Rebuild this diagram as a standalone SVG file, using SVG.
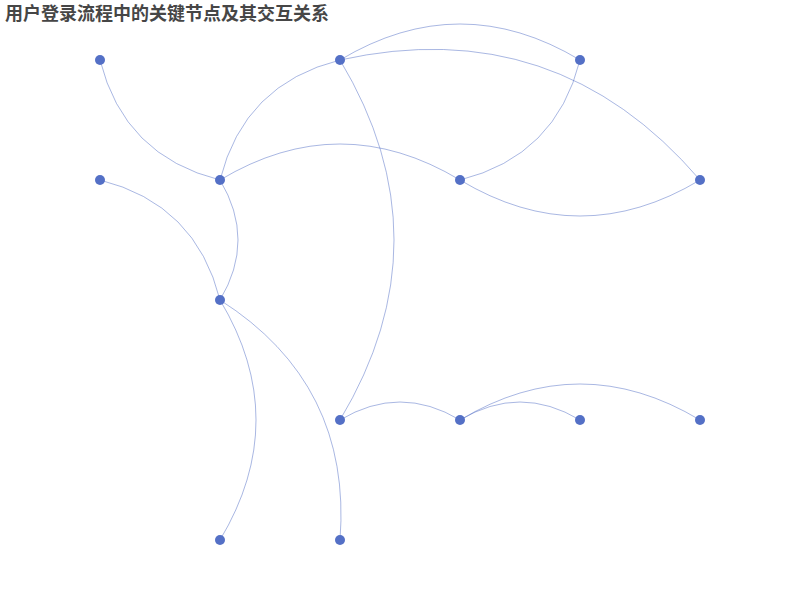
<svg xmlns="http://www.w3.org/2000/svg" width="800" height="600" viewBox="0 0 800 600">
<style>
.e{fill:none;stroke:#5470c6;stroke-opacity:0.5;stroke-width:1}
.n{fill:#5470c6}
.t{font-family:"Noto Sans CJK SC","Liberation Sans",sans-serif;font-size:18px;font-weight:bold;fill:#464646}
</style>
<rect width="800" height="600" fill="#ffffff"/>
<text class="t" x="5" y="20">用户登录流程中的关键节点及其交互关系</text>
<g id="edges">
<path class="e" d="M100,60 Q124,156 220,180"/>
<path class="e" d="M220,180 Q244,84 340,60"/>
<path class="e" d="M340,60 Q460,-12 580,60"/>
<path class="e" d="M340,60 Q556,12 700,180"/>
<path class="e" d="M580,60 Q556,156 460,180"/>
<path class="e" d="M220,180 Q340,108 460,180"/>
<path class="e" d="M460,180 Q580,252 700,180"/>
<path class="e" d="M340,60 Q448,240 340,420"/>
<path class="e" d="M100,180 Q196,204 220,300"/>
<path class="e" d="M220,180 Q256,240 220,300"/>
<path class="e" d="M220,300 Q292,420 220,540"/>
<path class="e" d="M220,300 Q352,384 340,540"/>
<path class="e" d="M340,420 Q400,384 460,420"/>
<path class="e" d="M460,420 Q520,384 580,420"/>
<path class="e" d="M460,420 Q580,348 700,420"/>
</g>
<g id="n1"><circle class="n" cx="100" cy="60" r="5"/></g>
<g id="n2"><circle class="n" cx="340" cy="60" r="5"/></g>
<g id="n3"><circle class="n" cx="580" cy="60" r="5"/></g>
<g id="n4"><circle class="n" cx="100" cy="180" r="5"/></g>
<g id="n5"><circle class="n" cx="220" cy="180" r="5"/></g>
<g id="n6"><circle class="n" cx="460" cy="180" r="5"/></g>
<g id="n7"><circle class="n" cx="700" cy="180" r="5"/></g>
<g id="n8"><circle class="n" cx="220" cy="300" r="5"/></g>
<g id="n9"><circle class="n" cx="340" cy="420" r="5"/></g>
<g id="n10"><circle class="n" cx="460" cy="420" r="5"/></g>
<g id="n11"><circle class="n" cx="580" cy="420" r="5"/></g>
<g id="n12"><circle class="n" cx="700" cy="420" r="5"/></g>
<g id="n13"><circle class="n" cx="220" cy="540" r="5"/></g>
<g id="n14"><circle class="n" cx="340" cy="540" r="5"/></g>
</svg>
